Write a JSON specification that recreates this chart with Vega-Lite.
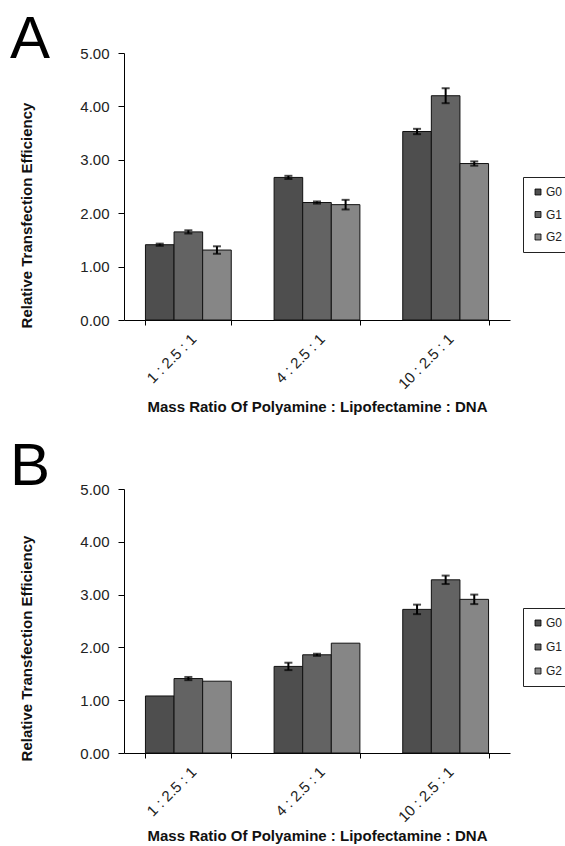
{
  "$schema": "https://vega.github.io/schema/vega-lite/v6.json",
  "padding": {"left": 10, "top": 10, "right": 0, "bottom": 0},
  "spacing": 22,
  "config": {
    "font": "Liberation Sans",
    "view": {"stroke": null},
    "axis": {"domainColor": "black", "tickColor": "black", "labelColor": "#222", "titleColor": "#111", "grid": false, "labelFont": "Liberation Sans", "titleFont": "Liberation Sans"}
  },
  "datasets": {
    "a": [
      {"ratio": "1 : 2.5 : 1", "gen": "G0", "value": 1.41, "lo": 1.39, "hi": 1.43},
      {"ratio": "1 : 2.5 : 1", "gen": "G1", "value": 1.65, "lo": 1.62, "hi": 1.68},
      {"ratio": "1 : 2.5 : 1", "gen": "G2", "value": 1.31, "lo": 1.24, "hi": 1.38},
      {"ratio": "4 : 2.5 : 1", "gen": "G0", "value": 2.67, "lo": 2.64, "hi": 2.70},
      {"ratio": "4 : 2.5 : 1", "gen": "G1", "value": 2.20, "lo": 2.18, "hi": 2.22},
      {"ratio": "4 : 2.5 : 1", "gen": "G2", "value": 2.16, "lo": 2.07, "hi": 2.25},
      {"ratio": "10 : 2.5 : 1", "gen": "G0", "value": 3.53, "lo": 3.48, "hi": 3.58},
      {"ratio": "10 : 2.5 : 1", "gen": "G1", "value": 4.20, "lo": 4.06, "hi": 4.34},
      {"ratio": "10 : 2.5 : 1", "gen": "G2", "value": 2.93, "lo": 2.89, "hi": 2.97}
    ],
    "b": [
      {"ratio": "1 : 2.5 : 1", "gen": "G0", "value": 1.08, "lo": null, "hi": null},
      {"ratio": "1 : 2.5 : 1", "gen": "G1", "value": 1.41, "lo": 1.38, "hi": 1.44},
      {"ratio": "1 : 2.5 : 1", "gen": "G2", "value": 1.36, "lo": null, "hi": null},
      {"ratio": "4 : 2.5 : 1", "gen": "G0", "value": 1.64, "lo": 1.57, "hi": 1.71},
      {"ratio": "4 : 2.5 : 1", "gen": "G1", "value": 1.86, "lo": 1.84, "hi": 1.88},
      {"ratio": "4 : 2.5 : 1", "gen": "G2", "value": 2.08, "lo": null, "hi": null},
      {"ratio": "10 : 2.5 : 1", "gen": "G0", "value": 2.72, "lo": 2.63, "hi": 2.81},
      {"ratio": "10 : 2.5 : 1", "gen": "G1", "value": 3.28, "lo": 3.20, "hi": 3.36},
      {"ratio": "10 : 2.5 : 1", "gen": "G2", "value": 2.91, "lo": 2.82, "hi": 3.00}
    ]
  },
  "resolve": {"legend": {"color": "independent"}},
  "vconcat": [
    {
      "title": {"text": "A", "anchor": "start", "frame": "group", "dx": -114, "offset": -72, "baseline": "alphabetic", "fontSize": 60, "fontWeight": "normal", "font": "Liberation Sans", "color": "black"},
      "width": 386,
      "height": 267,
      "data": {"name": "a"},
      "encoding": {
        "x": {"field": "ratio", "type": "nominal", "sort": ["1 : 2.5 : 1", "4 : 2.5 : 1", "10 : 2.5 : 1"], "scale": {"paddingInner": 0.333, "paddingOuter": 0.1667}, "title": "Mass Ratio Of Polyamine : Lipofectamine : DNA",
          "axis": {"labelAngle": -45, "labelFontSize": 15, "labelPadding": 6, "tickSize": 5, "tickBand": "extent", "titleFontSize": 15, "titleFontWeight": "bold", "titlePadding": 8}},
        "xOffset": {"field": "gen", "type": "nominal", "sort": ["G0", "G1", "G2"], "scale": {"paddingInner": 0, "paddingOuter": 0}}
      },
      "layer": [
        {
          "mark": {"type": "bar", "stroke": "#111", "strokeWidth": 1},
          "encoding": {
            "y": {"field": "value", "type": "quantitative", "title": "Relative Transfection Efficiency", "scale": {"domain": [0, 5], "nice": false},
              "axis": {"values": [0, 1, 2, 3, 4, 5], "format": ".2f", "labelFontSize": 15, "labelPadding": 9, "tickSize": 6, "titleFontSize": 15, "titleFontWeight": "bold", "titlePadding": 45, "titleY": 162}},
            "color": {"field": "gen", "type": "nominal", "scale": {"domain": ["G0", "G1", "G2"], "range": ["#4e4e4e", "#636363", "#868686"]},
              "legend": {"orient": "none", "legendX": 399, "legendY": 124, "title": null, "symbolType": "square", "symbolSize": 36, "symbolStrokeColor": "black", "symbolStrokeWidth": 0.8, "labelFontSize": 12, "labelColor": "#222", "labelOffset": 2, "rowPadding": 10.5, "padding": 9, "strokeColor": "#222", "fillColor": "white"}}
          }
        },
        {
          "mark": {"type": "rule", "strokeWidth": 2, "color": "black"},
          "encoding": {"y": {"field": "lo", "type": "quantitative", "title": "Relative Transfection Efficiency"}, "y2": {"field": "hi"}}
        },
        {
          "mark": {"type": "tick", "thickness": 2, "size": 8, "color": "black"},
          "encoding": {"y": {"field": "lo", "type": "quantitative", "title": "Relative Transfection Efficiency"}}
        },
        {
          "mark": {"type": "tick", "thickness": 2, "size": 8, "color": "black"},
          "encoding": {"y": {"field": "hi", "type": "quantitative", "title": "Relative Transfection Efficiency"}}
        }
      ]
    },
    {
      "title": {"text": "B", "anchor": "start", "frame": "group", "dx": -114, "offset": -63, "baseline": "alphabetic", "fontSize": 60, "fontWeight": "normal", "font": "Liberation Sans", "color": "black"},
      "width": 386,
      "height": 264,
      "data": {"name": "b"},
      "encoding": {
        "x": {"field": "ratio", "type": "nominal", "sort": ["1 : 2.5 : 1", "4 : 2.5 : 1", "10 : 2.5 : 1"], "scale": {"paddingInner": 0.333, "paddingOuter": 0.1667}, "title": "Mass Ratio Of Polyamine : Lipofectamine : DNA",
          "axis": {"labelAngle": -45, "labelFontSize": 15, "labelPadding": 6, "tickSize": 5, "tickBand": "extent", "titleFontSize": 15, "titleFontWeight": "bold", "titlePadding": 4}},
        "xOffset": {"field": "gen", "type": "nominal", "sort": ["G0", "G1", "G2"], "scale": {"paddingInner": 0, "paddingOuter": 0}}
      },
      "layer": [
        {
          "mark": {"type": "bar", "stroke": "#111", "strokeWidth": 1},
          "encoding": {
            "y": {"field": "value", "type": "quantitative", "title": "Relative Transfection Efficiency", "scale": {"domain": [0, 5], "nice": false},
              "axis": {"values": [0, 1, 2, 3, 4, 5], "format": ".2f", "labelFontSize": 15, "labelPadding": 9, "tickSize": 6, "titleFontSize": 15, "titleFontWeight": "bold", "titlePadding": 45, "titleY": 159}},
            "color": {"field": "gen", "type": "nominal", "scale": {"domain": ["G0", "G1", "G2"], "range": ["#4e4e4e", "#636363", "#868686"]},
              "legend": {"orient": "none", "legendX": 399, "legendY": 119, "title": null, "symbolType": "square", "symbolSize": 36, "symbolStrokeColor": "black", "symbolStrokeWidth": 0.8, "labelFontSize": 12, "labelColor": "#222", "labelOffset": 2, "rowPadding": 12, "padding": 9, "strokeColor": "#222", "fillColor": "white"}}
          }
        },
        {
          "mark": {"type": "rule", "strokeWidth": 2, "color": "black"},
          "encoding": {"y": {"field": "lo", "type": "quantitative", "title": "Relative Transfection Efficiency"}, "y2": {"field": "hi"}}
        },
        {
          "mark": {"type": "tick", "thickness": 2, "size": 8, "color": "black"},
          "encoding": {"y": {"field": "lo", "type": "quantitative", "title": "Relative Transfection Efficiency"}}
        },
        {
          "mark": {"type": "tick", "thickness": 2, "size": 8, "color": "black"},
          "encoding": {"y": {"field": "hi", "type": "quantitative", "title": "Relative Transfection Efficiency"}}
        }
      ]
    }
  ]
}
